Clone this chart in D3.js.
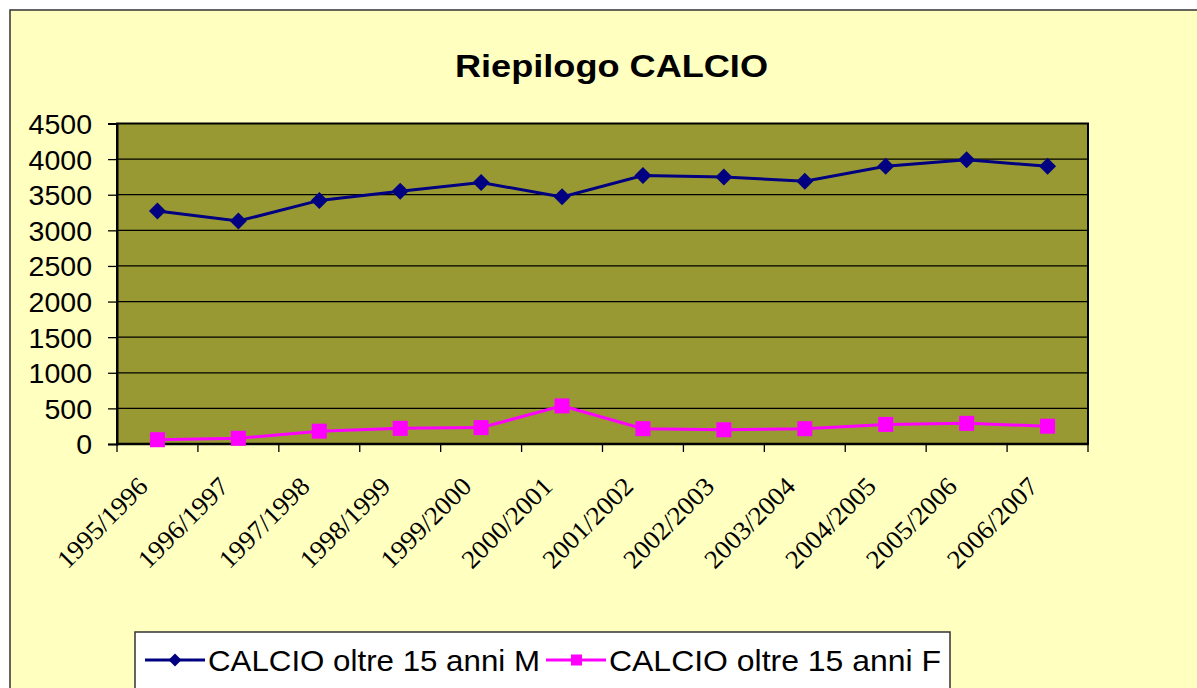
<!DOCTYPE html>
<html>
<head>
<meta charset="utf-8">
<script src="https://cdn.jsdelivr.net/npm/d3@7"></script>
<style>
  html, body { margin: 0; padding: 0; background: #ffffff; }
  svg { display: block; }
</style>
</head>
<body>
<svg id="chart" width="1197" height="688"></svg>
<script>
const categories = ["1995/1996","1996/1997","1997/1998","1998/1999","1999/2000","2000/2001",
                    "2001/2002","2002/2003","2003/2004","2004/2005","2005/2006","2006/2007"];
const valuesM = [3270, 3130, 3420, 3550, 3670, 3470, 3770, 3750, 3690, 3900, 3990, 3900];
const valuesF = [60, 80, 180, 220, 230, 535, 215, 200, 215, 275, 290, 250];
const yTicks = [0, 500, 1000, 1500, 2000, 2500, 3000, 3500, 4000, 4500];
const seriesNames = ["CALCIO oltre 15 anni M", "CALCIO oltre 15 anni F"];
const titleText = "Riepilogo CALCIO";

const svg = d3.select("#chart");
const plot = { left: 117, right: 1088, top: 123.5, bottom: 444 };

// chart background
svg.append("rect").attr("x", 10).attr("y", 10).attr("width", 1200).attr("height", 700)
  .attr("fill", "#FFFFC0").attr("stroke", "#333333").attr("stroke-width", 1.5);

// title
svg.append("text").attr("x", 611.5).attr("y", 77)
  .attr("text-anchor", "middle")
  .attr("font-family", "Arial, 'Liberation Sans', sans-serif")
  .attr("font-weight", "bold").attr("font-size", 32)
  .attr("textLength", 313).attr("lengthAdjust", "spacingAndGlyphs")
  .attr("fill", "#000").text(titleText);

const x = d3.scaleBand().domain(categories).range([plot.left, plot.right]).paddingInner(0).paddingOuter(0);
const y = d3.scaleLinear().domain([0, 4500]).range([plot.bottom, plot.top]);
const cx = c => x(c) + x.bandwidth() / 2;

// plot background
svg.append("rect").attr("x", plot.left).attr("y", plot.top)
  .attr("width", plot.right - plot.left).attr("height", plot.bottom - plot.top)
  .attr("fill", "#999933");

// gridlines
svg.append("g").selectAll("line").data(yTicks.filter(t => t > 0 && t < 4500)).join("line")
  .attr("x1", plot.left).attr("x2", plot.right)
  .attr("y1", d => y(d)).attr("y2", d => y(d))
  .attr("stroke", "#000").attr("stroke-width", 1.3);

// plot border
svg.append("rect").attr("x", plot.left).attr("y", plot.top)
  .attr("width", plot.right - plot.left).attr("height", plot.bottom - plot.top)
  .attr("fill", "none").attr("stroke", "#000").attr("stroke-width", 2);

// y axis
const yAxis = d3.axisLeft(y).tickValues(yTicks).tickSize(9).tickPadding(16).tickFormat(d3.format("d"));
const gy = svg.append("g").attr("transform", `translate(${plot.left},0)`).call(yAxis);
gy.select(".domain").attr("stroke", "#000").attr("stroke-width", 2);
gy.selectAll(".tick line").attr("stroke", "#000").attr("stroke-width", 1.3);
gy.selectAll(".tick text").attr("font-family", "Arial, 'Liberation Sans', sans-serif")
  .attr("font-size", 28.5).attr("fill", "#000").attr("dy", "0.35em");

// x axis ticks at category boundaries
const edges = categories.map(c => x(c)).concat([plot.right]);
svg.append("g").selectAll("line").data(edges).join("line")
  .attr("x1", d => d).attr("x2", d => d)
  .attr("y1", plot.bottom).attr("y2", plot.bottom + 8)
  .attr("stroke", "#000").attr("stroke-width", 1.3);
svg.append("line").attr("x1", plot.left).attr("x2", plot.right)
  .attr("y1", plot.bottom).attr("y2", plot.bottom).attr("stroke", "#000").attr("stroke-width", 2.5);

// x labels
svg.append("g").selectAll("text").data(categories).join("text")
  .attr("transform", d => `translate(${cx(d) - 8},488) rotate(-45)`)
  .attr("text-anchor", "end")
  .style("font-family", "'Liberation Serif', 'DejaVu Serif', 'Times New Roman', serif")
  .attr("font-size", 26)
  .attr("textLength", 116).attr("lengthAdjust", "spacingAndGlyphs")
  .attr("fill", "#000").text(d => d);

// lines
const line = d3.line().x((d, i) => cx(categories[i])).y(d => y(d));
svg.append("path").datum(valuesM).attr("d", line).attr("fill", "none")
  .attr("stroke", "#000080").attr("stroke-width", 3);
svg.append("path").datum(valuesF).attr("d", line).attr("fill", "none")
  .attr("stroke", "#FF00FF").attr("stroke-width", 3);

// markers
const diamond = s => `M0,${-s}L${s},0L0,${s}L${-s},0Z`;
svg.append("g").selectAll("path").data(valuesM).join("path")
  .attr("transform", (d, i) => `translate(${cx(categories[i])},${y(d)})`)
  .attr("d", diamond(8.5)).attr("fill", "#000080");
svg.append("g").selectAll("rect").data(valuesF).join("rect")
  .attr("x", (d, i) => cx(categories[i]) - 7.5).attr("y", d => y(d) - 7.5)
  .attr("width", 15).attr("height", 15).attr("fill", "#FF00FF");

// legend
const lg = svg.append("g");
lg.append("rect").attr("x", 135).attr("y", 632).attr("width", 815).attr("height", 60)
  .attr("fill", "#ffffff").attr("stroke", "#333").attr("stroke-width", 1.5);
const legendItems = [
  { name: seriesNames[0], color: "#000080", x0: 145, shape: "diamond" },
  { name: seriesNames[1], color: "#FF00FF", x0: 546, shape: "square" }
];
const ly = 660;
legendItems.forEach(it => {
  lg.append("line").attr("x1", it.x0).attr("x2", it.x0 + 60).attr("y1", ly).attr("y2", ly)
    .attr("stroke", it.color).attr("stroke-width", 3);
  if (it.shape === "diamond") {
    lg.append("path").attr("transform", `translate(${it.x0 + 30},${ly})`).attr("d", diamond(6.5)).attr("fill", it.color);
  } else {
    lg.append("rect").attr("x", it.x0 + 25).attr("y", ly - 5.5).attr("width", 11).attr("height", 11).attr("fill", it.color);
  }
  lg.append("text").attr("x", it.x0 + 63).attr("y", ly).attr("dy", "0.35em")
    .attr("font-family", "Arial, 'Liberation Sans', sans-serif").attr("font-size", 30)
    .attr("textLength", 332).attr("lengthAdjust", "spacingAndGlyphs")
    .attr("fill", "#000").text(it.name);
});
</script>
</body>
</html>
